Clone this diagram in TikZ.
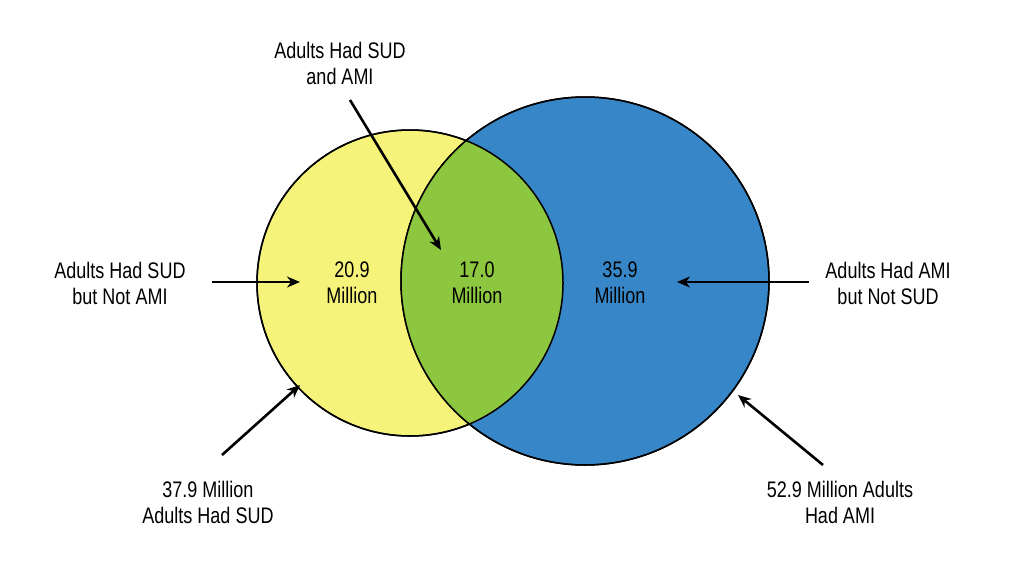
\documentclass[tikz,border=0pt]{standalone}
\usepackage{fontspec}
\setmainfont{Liberation Sans}
\usetikzlibrary{arrows.meta}
\definecolor{sudyellow}{RGB}{246, 243, 122}
\definecolor{amiblue}{RGB}{55, 135, 200}
\definecolor{bothgreen}{RGB}{141, 198, 63}
\tikzset{
  lbl/.style={align=center, font=\fontsize{22.5}{26}\selectfont\addfontfeatures{FakeStretch=0.8}},
  pointer/.style={-{Stealth[length=13pt,width=11pt]}, line width=2.6pt}
}
\begin{document}
\begin{tikzpicture}[x=1pt,y=-1pt]
        \useasboundingbox (0,0) rectangle (1024,570);
        % Circles
        \draw[line width=1.5pt, fill=sudyellow] (410,283) circle (153);
        \draw[line width=1.5pt, fill=amiblue] (585,281) circle (184);
        \begin{scope}
            \clip (410,283) circle (153);
            \fill[bothgreen] (585,281) circle (184);
        \end{scope}
        \draw[line width=1.5pt] (410,283) circle (153);
        \draw[line width=1.5pt] (585,281) circle (184);
        % Values
        \node[lbl] (vsud) at (352,283) {20.9\\Million};
        \node[lbl] (vboth) at (477,283) {17.0\\Million};
        \node[lbl] (vami) at (620,283) {35.9\\Million};
        % Labels
        \node[lbl] (tboth) at (340,63) {Adults Had SUD\\and AMI};
        \node[lbl] (tsud) at (120,283) {Adults Had SUD\\but Not AMI};
        \node[lbl] (tami) at (888,283) {Adults Had AMI\\but Not SUD};
        \node[lbl] (tsudall) at (208,502) {37.9 Million\\Adults Had SUD};
        \node[lbl] (tamiall) at (840,502) {52.9 Million Adults\\Had AMI};
        % Arrows
        \coordinate (pboth) at (441,250);
        \coordinate (psud) at (300,282);
        \coordinate (pami) at (677,282);
        \coordinate (psudall) at (300,385);
        \coordinate (pamiall) at (738,395);
        \draw[pointer] (350,100) -- (pboth);
        \draw[pointer] (212,282) -- (psud);
        \draw[pointer] (809,282) -- (pami);
        \draw[pointer] (222,455) -- (psudall);
        \draw[pointer] (823,465) -- (pamiall);
\end{tikzpicture}
\end{document}
